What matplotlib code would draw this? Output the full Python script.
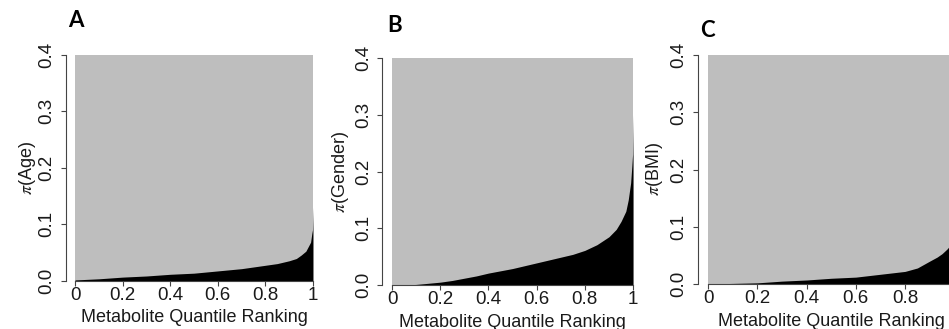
import matplotlib
matplotlib.use('Agg')
import matplotlib.pyplot as plt

plt.rcParams['font.family'] = ['Liberation Sans', 'DejaVu Sans']
plt.rcParams['mathtext.fontset'] = 'stix'

# sorted pi values along the quantile ranking
age_x = [0, 0.05, 0.1, 0.2, 0.3, 0.4, 0.5, 0.6, 0.7, 0.8, 0.85, 0.9, 0.93,
         0.95, 0.97, 0.98, 0.99, 0.995, 0.998, 1.0]
age_y = [0.001, 0.002, 0.003, 0.006, 0.008, 0.011, 0.013, 0.017, 0.021, 0.027,
         0.030, 0.035, 0.039, 0.045, 0.052, 0.060, 0.068, 0.083, 0.090, 0.130]

gender_x = [0, 0.05, 0.1, 0.15, 0.2, 0.25, 0.3, 0.35, 0.4, 0.45, 0.5, 0.55,
            0.6, 0.65, 0.7, 0.75, 0.8, 0.85, 0.9, 0.93, 0.95, 0.97, 0.98,
            0.99, 0.995, 0.998, 1.0]
gender_y = [0, 0, 0.001, 0.003, 0.005, 0.008, 0.012, 0.016, 0.021, 0.025,
            0.029, 0.034, 0.039, 0.044, 0.049, 0.054, 0.061, 0.071, 0.085,
            0.098, 0.112, 0.130, 0.150, 0.180, 0.210, 0.230, 0.300]

bmi_x = [0, 0.1, 0.2, 0.3, 0.4, 0.5, 0.6, 0.7, 0.8, 0.85, 0.9, 0.93, 0.95,
         0.97, 0.98, 0.99, 1.0]
bmi_y = [0, 0.001, 0.002, 0.005, 0.007, 0.010, 0.012, 0.017, 0.022, 0.028,
         0.040, 0.047, 0.053, 0.061, 0.066, 0.085, 0.120]

panel_letters = ['A', 'B', 'C']
ylabels = [r'$\pi$(Age)', r'$\pi$(Gender)', r'$\pi$(BMI)']
xticks = [0, 0.2, 0.4, 0.6, 0.8, 1]
xtick_labels = ['0', '0.2', '0.4', '0.6', '0.8', '1']
yticks = [0, 0.1, 0.2, 0.3, 0.4]
ytick_labels = ['0.0', '0.1', '0.2', '0.3', '0.4']

W, H = 949, 329
# axes boxes in pixels: left, top, width, height
boxes = [(65.5, 55, 257, 225.5), (382.4, 58, 260.3, 227), (698.2, 55, 266, 229)]
ylab_off = [-28, -31, -33]
title_pos = [(68, 27), (387, 32), (700, 37)]

fig = plt.figure(figsize=(W / 100, H / 100), dpi=100)

data = [(age_x, age_y), (gender_x, gender_y), (bmi_x, bmi_y)]
for i in range(3):
    l, t, w, h = boxes[i]
    ax = fig.add_axes([l / W, 1 - (t + h) / H, w / W, h / H])
    xs, ys = data[i]
    ax.fill_between([0, 1], 0, 0.4, color='#bebebe', linewidth=0)
    ax.fill_between(xs, 0, ys, color='black', linewidth=0)
    ax.set_xlim(-0.04, 1.04)
    ax.set_ylim(0, 0.4)
    for s in ['top', 'right']:
        ax.spines[s].set_visible(False)
    ax.spines['left'].set_bounds(0, 0.4)
    ax.spines['bottom'].set_bounds(0, 1)
    for s in ['left', 'bottom']:
        ax.spines[s].set_color('#444444')
        ax.spines[s].set_linewidth(0.8)
    ax.set_xticks(xticks)
    ax.set_xticklabels(xtick_labels)
    ax.set_yticks(yticks)
    ax.set_yticklabels(ytick_labels, rotation=90, va='center')
    ax.tick_params(axis='both', length=3.6, width=0.8, color='#444444',
                   labelsize=13.5, labelcolor='#1a1a1a')
    ax.tick_params(axis='x', pad=1)
    ax.tick_params(axis='y', pad=4)
    ax.set_xlabel('Metabolite Quantile Ranking', fontsize=13, color='#1a1a1a')
    ax.xaxis.set_label_coords(0.5, -29 / h)
    ax.set_ylabel(ylabels[i], fontsize=13, color='#1a1a1a')
    ax.yaxis.set_label_coords(ylab_off[i] / w, 0.5)
    tx, ty = title_pos[i]
    fig.text(tx / W, 1 - ty / H, panel_letters[i], fontsize=16,
             fontweight='bold', family='Lato', va='baseline', ha='left')

fig.savefig('out.png', dpi=100)
